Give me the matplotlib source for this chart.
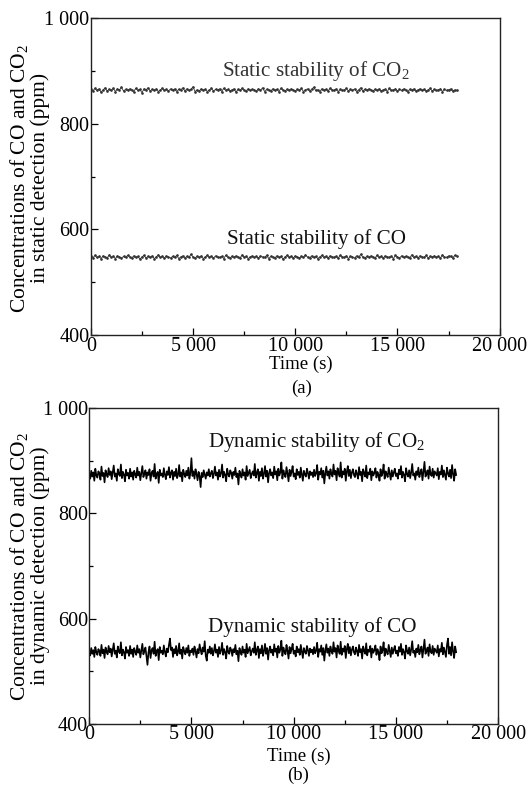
import numpy as np
import matplotlib
matplotlib.use("Agg")
import matplotlib.pyplot as plt
from matplotlib.ticker import MultipleLocator, FixedLocator

plt.rcParams['font.family'] = ['Liberation Serif', 'DejaVu Serif']
plt.rcParams['mathtext.fontset'] = 'custom'
plt.rcParams['mathtext.rm'] = 'Liberation Serif'

# static readings every 100 s, dynamic readings every 50 s
static_times = np.arange(0, 18000, 100)
dynamic_times = np.arange(0, 18000, 50)

static_co2 = [
    865, 862, 867, 863, 866, 860, 864, 868, 862, 865, 863, 867, 861, 866, 864, 869, 862, 865, 863, 866,
    864, 861, 867, 863, 865, 859, 866, 864, 868, 862, 865, 863, 866, 861, 864, 867, 863, 865, 862, 866,
    863, 866, 861, 865, 864, 868, 862, 866, 863, 865, 870, 861, 864, 862, 866, 863, 865, 861, 864, 867,
    862, 865, 864, 866, 861, 867, 863, 865, 862, 864, 866, 860, 865, 863, 867, 864, 862, 866, 863, 865,
    864, 862, 866, 863, 868, 861, 865, 864, 862, 866, 863, 865, 861, 867, 864, 862, 865, 863, 866, 864,
    862, 865, 863, 867, 861, 864, 866, 862, 865, 869, 863, 864, 861, 866, 863, 865, 862, 867, 864, 863,
    866, 861, 865, 863, 864, 867, 862, 865, 863, 866, 861, 864, 868, 862, 865, 863, 866, 864, 862, 865,
    863, 866, 862, 864, 865, 861, 867, 863, 864, 866, 862, 865, 863, 866, 864, 861, 865, 863, 866, 862,
    864, 866, 863, 865, 862, 864, 867, 862, 865, 863, 864, 866, 861, 865, 863, 864, 866, 862, 864, 863,
]

static_co = [
    549, 546, 551, 547, 549, 545, 550, 548, 546, 552, 547, 549, 545, 550, 548, 546, 549, 547, 551, 548,
    546, 550, 547, 549, 544, 548, 551, 546, 549, 547, 550, 545, 548, 552, 547, 549, 546, 550, 548, 546,
    549, 547, 551, 545, 548, 550, 546, 549, 547, 553, 548, 546, 549, 547, 550, 545, 548, 551, 547, 549,
    546, 550, 548, 547, 549, 545, 551, 548, 546, 549, 547, 550, 548, 546, 552, 547, 549, 545, 548, 550,
    547, 549, 546, 550, 548, 547, 551, 545, 549, 548, 546, 550, 547, 549, 544, 548, 551, 547, 549, 546,
    550, 548, 546, 549, 547, 552, 548, 546, 550, 547, 549, 545, 548, 551, 547, 549, 546, 550, 548, 547,
    549, 546, 551, 548, 547, 550, 545, 549, 548, 546, 550, 547, 553, 548, 546, 549, 547, 550, 548, 546,
    551, 547, 549, 546, 550, 548, 547, 549, 545, 551, 548, 546, 550, 547, 549, 548, 546, 552, 547, 549,
    546, 550, 548, 547, 551, 546, 549, 548, 550, 547, 549, 546, 552, 548, 547, 550, 549, 546, 551, 550,
]

dynamic_co2 = [
    874, 866, 881, 870, 878, 862, 885, 872, 868, 880, 876, 864, 889, 871, 877, 859, 882, 874, 869, 886,
    873, 880, 865, 878, 891, 870, 876, 862, 884, 875, 871, 893, 867, 879, 874, 861, 883, 872, 877, 866,
    885, 870, 878, 864, 881, 874, 868, 887, 872, 879, 863, 876, 890, 869, 875, 882, 866, 878, 873, 884,
    862, 877, 881, 870, 894, 866, 875, 879, 858, 883, 872, 876, 869, 886, 874, 865, 880, 873, 888, 868,
    877, 882, 864, 879, 871, 885, 867, 874, 892, 870, 878, 861, 883, 875, 869, 881, 872, 887, 866, 876,
    905, 871, 880, 866, 884, 875, 863, 879, 871, 850, 877, 869, 882, 874, 866, 878, 872, 884, 870, 876,
    881, 867, 875, 889, 872, 878, 864, 883, 870, 876, 893, 868, 879, 873, 861, 885, 874, 870, 882, 877,
    866, 879, 873, 887, 869, 876, 855, 881, 874, 868, 884, 872, 878, 864, 890, 871, 877, 883, 867, 875,
    880, 872, 894, 868, 877, 884, 862, 879, 871, 886, 866, 875, 890, 870, 881, 859, 877, 884, 872, 878,
    867, 889, 874, 880, 863, 885, 872, 878, 897, 866, 882, 874, 869, 888, 876, 861, 883, 871, 879, 890,
    870, 876, 865, 884, 873, 879, 868, 887, 875, 862, 881, 874, 870, 885, 877, 866, 880, 873, 878, 869,
    883, 871, 876, 892, 864, 879, 874, 886, 868, 881, 857, 877, 889, 872, 880, 866, 884, 875, 870, 893,
    874, 881, 863, 886, 876, 870, 897, 868, 880, 874, 885, 862, 879, 890, 871, 883, 867, 878, 884, 873,
    869, 882, 875, 866, 888, 873, 879, 861, 884, 876, 870, 891, 867, 878, 874, 885, 863, 880, 872, 877,
    886, 868, 879, 873, 862, 884, 871, 877, 893, 866, 880, 874, 869, 887, 875, 864, 882, 870, 878, 885,
    871, 876, 866, 883, 874, 890, 868, 879, 873, 861, 886, 875, 870, 882, 867, 878, 894, 872, 876, 864,
    880, 873, 887, 869, 877, 884, 863, 879, 898, 870, 875, 882, 866, 889, 874, 871, 885, 868, 880, 876,
    872, 886, 865, 879, 874, 891, 869, 882, 873, 864, 887, 876, 870, 883, 867, 892, 875, 862, 884, 873,
]

dynamic_co = [
    537, 530, 544, 533, 540, 527, 546, 536, 531, 542, 538, 529, 550, 534, 541, 525, 545, 537, 532, 548,
    536, 543, 528, 540, 553, 533, 539, 526, 547, 537, 534, 555, 530, 541, 536, 524, 546, 535, 540, 529,
    548, 533, 541, 527, 544, 537, 531, 549, 535, 542, 526, 539, 552, 532, 538, 545, 529, 512, 536, 547,
    525, 540, 544, 533, 556, 529, 538, 542, 521, 546, 535, 539, 532, 549, 537, 528, 543, 536, 550, 562,
    540, 545, 527, 542, 534, 548, 530, 537, 553, 533, 541, 524, 546, 538, 532, 544, 535, 549, 529, 539,
    536, 543, 531, 547, 538, 526, 542, 534, 551, 540, 532, 545, 537, 557, 529, 520, 541, 535, 547, 533,
    544, 530, 538, 551, 535, 541, 527, 546, 533, 539, 554, 531, 542, 536, 524, 548, 537, 533, 545, 540,
    529, 542, 536, 550, 532, 539, 519, 544, 537, 531, 547, 535, 541, 527, 552, 534, 540, 546, 530, 538,
    543, 535, 555, 531, 540, 547, 525, 542, 534, 549, 529, 538, 552, 533, 544, 522, 540, 547, 535, 541,
    530, 551, 537, 543, 526, 548, 535, 541, 558, 529, 545, 537, 532, 550, 539, 524, 546, 534, 542, 552,
    533, 539, 528, 547, 536, 542, 531, 550, 538, 525, 544, 537, 533, 548, 540, 529, 543, 536, 541, 532,
    546, 534, 539, 554, 527, 542, 537, 549, 531, 544, 520, 540, 551, 535, 543, 529, 547, 538, 533, 555,
    537, 544, 526, 549, 539, 533, 556, 531, 543, 537, 548, 525, 542, 552, 534, 546, 530, 541, 547, 536,
    532, 545, 538, 529, 550, 536, 542, 524, 547, 539, 533, 553, 530, 541, 537, 548, 526, 543, 535, 540,
    549, 531, 542, 536, 521, 547, 534, 540, 555, 529, 543, 537, 532, 550, 538, 527, 545, 533, 541, 548,
    534, 539, 529, 546, 537, 552, 531, 542, 536, 524, 549, 538, 533, 545, 530, 541, 557, 535, 539, 527,
    543, 536, 550, 532, 540, 547, 526, 542, 560, 533, 538, 545, 529, 551, 537, 534, 548, 531, 543, 539,
    535, 549, 528, 542, 537, 554, 532, 545, 536, 527, 550, 562, 533, 546, 530, 555, 538, 525, 547, 536,
]

x_ticks = [0, 5000, 10000, 15000, 20000]
x_tick_labels = ["0", "5 000", "10 000", "15 000", "20 000"]
y_ticks = [400, 600, 800, 1000]
y_tick_labels = ["400", "600", "800", "1 000"]


def style_axes(ax):
    ax.set_xlim(0, 20000)
    ax.set_ylim(400, 1000)
    ax.xaxis.set_major_locator(FixedLocator(x_ticks))
    ax.set_xticklabels(x_tick_labels)
    ax.xaxis.set_minor_locator(MultipleLocator(2500))
    ax.yaxis.set_major_locator(FixedLocator(y_ticks))
    ax.set_yticklabels(y_tick_labels)
    ax.yaxis.set_minor_locator(MultipleLocator(100))
    ax.tick_params(which='both', direction='in', top=False, right=False,
                   labelsize=14.5, pad=1, width=0.9)
    ax.tick_params(which='major', length=5)
    ax.tick_params(which='minor', length=3)
    for s in ax.spines.values():
        s.set_linewidth(1.0)
        s.set_color('#222222')


fig = plt.figure(figsize=(5.31, 7.85), dpi=100)

ax1 = fig.add_axes([0.171, 0.573, 0.770, 0.404])
ax1.plot(static_times, static_co2, color='#333333', lw=0.6, marker='.', ms=1.8)
ax1.plot(static_times, static_co, color='#333333', lw=0.6, marker='.', ms=1.8)
style_axes(ax1)
ax1.text(6400, 900, "Static stability of CO$_2$", fontsize=15.2, color='#333333', va='center')
ax1.text(6650, 582, "Static stability of CO", fontsize=15.2, color='#111111', va='center')
fig.text(0.567, 1 - 364 / 785, "Time (s)", fontsize=13.5, ha='center', va='center')
fig.text(0.567, 1 - 388 / 785, "(a)", fontsize=13.5, ha='center', va='center')
fig.text(29 / 531, 1 - 178 / 785,
         "Concentrations of CO and CO$_2$\nin static detection (ppm)",
         rotation=90, ha='center', va='center', fontsize=15.5, linespacing=0.95)

ax2 = fig.add_axes([0.168, 0.078, 0.770, 0.402])
ax2.plot(dynamic_times, dynamic_co2, color='black', lw=1.2)
ax2.plot(dynamic_times, dynamic_co, color='black', lw=1.2)
style_axes(ax2)
ax2.text(5820, 935, "Dynamic stability of CO$_2$", fontsize=15.2, color='#111111', va='center')
ax2.text(5820, 584, "Dynamic stability of CO", fontsize=15.2, color='#111111', va='center')
fig.text(0.562, 1 - 756 / 785, "Time (s)", fontsize=13.5, ha='center', va='center')
fig.text(0.562, 1 - 775 / 785, "(b)", fontsize=13.5, ha='center', va='center')
fig.text(29 / 531, 1 - 566 / 785,
         "Concentrations of CO and CO$_2$\nin dynamic detection (ppm)",
         rotation=90, ha='center', va='center', fontsize=15.5, linespacing=0.95)

fig.savefig("out.png", dpi=100)
